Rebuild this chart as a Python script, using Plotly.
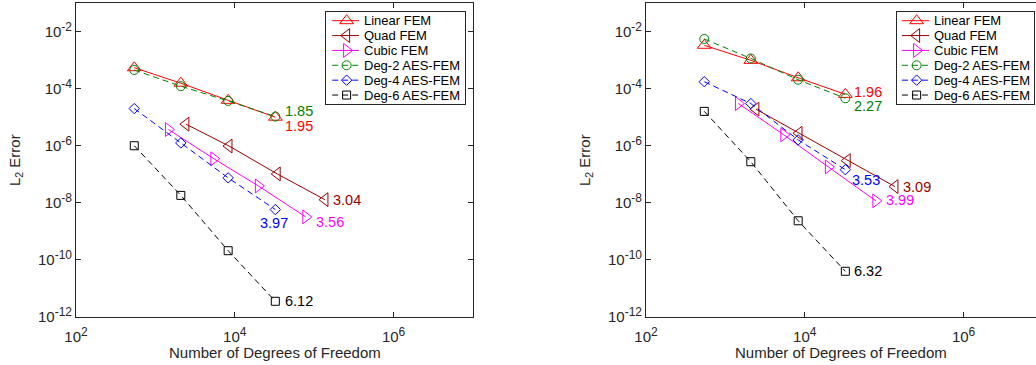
import numpy as np
import plotly.graph_objects as go

# ---------------- data ----------------
series_names = ["Linear FEM", "Quad FEM", "Cubic FEM", "Deg-2 AES-FEM", "Deg-4 AES-FEM", "Deg-6 AES-FEM"]

dof_p1 = [542, 2090, 8250, 32400]        # Linear FEM and AES-FEM
dof_p2 = [2420, 8450, 34200, 136500]     # Quad FEM
dof_p3 = [1460, 5450, 19800, 78500]      # Cubic FEM

# left panel errors
left_linear = [5.4e-4, 1.55e-4, 3.9e-5, 1.0e-5]
left_quad = [5.7e-6, 9.8e-7, 1.03e-7, 1.29e-8]
left_cubic = [3.7e-6, 3.5e-7, 3.9e-8, 3.2e-9]
left_deg2 = [4.5e-4, 1.22e-4, 3.7e-5, 1.05e-5]
left_deg4 = [2.0e-5, 1.25e-6, 7.5e-8, 5.8e-9]
left_deg6 = [1.0e-6, 1.82e-8, 2.1e-10, 3.55e-12]
left_rates = ["1.95", "3.04", "3.56", "1.85", "3.97", "6.12"]

# right panel errors
right_linear = [3.3e-3, 9.8e-4, 2.4e-4, 6.3e-5]
right_quad = [1.92e-5, 2.75e-6, 3.0e-7, 3.7e-8]
right_cubic = [3.0e-5, 2.4e-6, 1.8e-7, 1.17e-8]
right_deg2 = [5.5e-3, 1.14e-3, 2.05e-4, 4.6e-5]
right_deg4 = [1.75e-4, 3.0e-5, 1.6e-6, 1.45e-7]
right_deg6 = [1.6e-5, 2.75e-7, 2.35e-9, 4.0e-11]
right_rates = ["1.96", "3.09", "3.99", "2.27", "3.53", "6.32"]

x_tickvals = [1e2, 1e4, 1e6]
x_tickexp = ["2", "4", "6"]
y_tickvals = [1e-12, 1e-10, 1e-8, 1e-6, 1e-4, 1e-2]
y_tickexp = ["-12", "-10", "-8", "-6", "-4", "-2"]

# ---------------- style ----------------
FONT = "Liberation Sans, Arial, Helvetica, sans-serif"
AX = "#262626"
colors = ["#FF0000", "#990000", "#FF00FF", "#008000", "#0000FF", "#000000"]
symbols = ["triangle-up-open", "triangle-left-open", "triangle-right-open",
           "circle-open", "diamond-open", "square-open"]
msizes = [12, 12, 12, 9, 8, 8]
dashes = ["solid", "solid", "solid", "6px,4px", "6px,4px", "6px,4px"]
xs = [dof_p1, dof_p2, dof_p3, dof_p1, dof_p1, dof_p1]

left_data = [left_linear, left_quad, left_cubic, left_deg2, left_deg4, left_deg6]
right_data = [right_linear, right_quad, right_cubic, right_deg2, right_deg4, right_deg6]


def pow_label(e):
    return "10<sup><span style='font-size:12px'>" + e + "</span></sup>"


# label offsets (px) relative to last point: (xanchor, xshift, yshift)
left_off = [("left", 7.5, -8.5), ("left", 5.8, 0), ("left", 8, -5.5),
            ("left", 7.5, 6), ("center", -1, -13.5), ("left", 7.5, 0)]
right_off = [("left", 7, 2), ("left", 6, 0), ("left", 8.4, 1),
             ("left", 7, -7.6), ("left", 4.7, -10), ("left", 7, 0)]

fig = go.Figure()
annotations = []

for panel, (data, rates, offs, xa, ya) in enumerate([
        (left_data, left_rates, left_off, "x", "y"),
        (right_data, right_rates, right_off, "x2", "y2")]):
    for i in range(6):
        fig.add_trace(go.Scatter(
            x=xs[i], y=data[i], xaxis=xa, yaxis=ya, mode="lines+markers",
            line=dict(color=colors[i], width=1, dash=dashes[i]),
            marker=dict(symbol=symbols[i], size=msizes[i], color=colors[i],
                        line=dict(color=colors[i], width=1)),
            showlegend=False, hoverinfo="skip"))
    for i in range(6):
        anc, xsft, ysft = offs[i]
        annotations.append(dict(
            x=np.log10(xs[i][-1]), y=np.log10(data[i][-1]), xref=xa, yref=ya,
            text=rates[i], showarrow=False, xanchor=anc, yanchor="middle",
            xshift=xsft, yshift=ysft,
            font=dict(family=FONT, size=14.5, color=colors[i])))

# ---------------- legends (drawn on small overlay axes) ----------------
row_y = [1 - (0.0913 + k * 0.1616) for k in range(6)]
for lx, ly, samp, mk, tx in [("x3", "y3", (0.043, 0.236), 0.147, 0.258),
                              ("x4", "y4", (0.036, 0.235), 0.143, 0.255)]:
    for i in range(6):
        fig.add_trace(go.Scatter(
            x=list(samp), y=[row_y[i], row_y[i]], xaxis=lx, yaxis=ly, mode="lines",
            line=dict(color=colors[i], width=1, dash=dashes[i]),
            showlegend=False, hoverinfo="skip"))
        fig.add_trace(go.Scatter(
            x=[mk], y=[row_y[i]], xaxis=lx, yaxis=ly, mode="markers",
            marker=dict(symbol=symbols[i], size=msizes[i], color=colors[i],
                        line=dict(color=colors[i], width=1)),
            showlegend=False, hoverinfo="skip"))
        annotations.append(dict(
            x=tx, y=row_y[i], xref=lx, yref=ly, text=series_names[i],
            showarrow=False, xanchor="left", yanchor="middle",
            font=dict(family=FONT, size=13, color="#000000")))

# axis titles
for xa, ya in [("x", "y"), ("x2", "y2")]:
    annotations.append(dict(
        x=0.5, y=-0.1115, xref=xa + " domain", yref="paper",
        text="Number of Degrees of Freedom", showarrow=False,
        xanchor="center", yanchor="middle",
        font=dict(family=FONT, size=15, color=AX)))
    annotations.append(dict(
        x=0, y=0.5, xref=xa + " domain", yref=ya + " domain", xshift=-61,
        text="L<sub>2</sub> Error", showarrow=False, textangle=-90,
        xanchor="center", yanchor="middle",
        font=dict(family=FONT, size=15, color=AX)))

common_x = dict(type="log", tickvals=x_tickvals, ticktext=[pow_label(e) for e in x_tickexp],
                ticks="inside", ticklen=5, tickcolor=AX, tickwidth=1,
                showline=True, linecolor=AX, linewidth=1, showgrid=False,
                zeroline=False, tickfont=dict(family=FONT, size=15, color=AX),
                automargin=False, fixedrange=True, ticklabelstandoff=6)
common_y = dict(type="log", range=[-12, -1], tickvals=y_tickvals,
                ticktext=[pow_label(e) for e in y_tickexp],
                ticks="inside", ticklen=5, tickcolor=AX, tickwidth=1,
                showline=True, linecolor=AX, linewidth=1, showgrid=False,
                zeroline=False, tickfont=dict(family=FONT, size=15, color=AX),
                automargin=False, fixedrange=True, domain=[0, 1])
leg_ax = dict(range=[0, 1], showline=True, mirror=True, linecolor=AX, linewidth=1,
              showticklabels=False, ticks="", showgrid=False, zeroline=False,
              fixedrange=True, automargin=False)

fig.update_layout(
    width=1036, height=365,
    margin=dict(l=76, r=0, t=3, b=48),
    paper_bgcolor="white", plot_bgcolor="white",
    showlegend=False,
    font=dict(family=FONT, color=AX),
    xaxis=dict(common_x, domain=[0, 397 / 960], range=[2, 7], anchor="y", mirror="ticks"),
    yaxis=dict(common_y, anchor="x", mirror="ticks"),
    xaxis2=dict(common_x, domain=[570 / 960, 1], range=[2, 2 + 390 / 79.4], anchor="y2", mirror="ticks"),
    yaxis2=dict(common_y, anchor="x2", mirror=False),
    xaxis3=dict(leg_ax, domain=[0.2607, 0.4049], anchor="y3"),
    yaxis3=dict(leg_ax, domain=[0.6774, 0.9704], anchor="x3"),
    xaxis4=dict(leg_ax, domain=[0.8552, 0.9982], anchor="y4"),
    yaxis4=dict(leg_ax, domain=[0.6774, 0.9704], anchor="x4"),
    annotations=annotations,
)

fig.write_html("out.html", config={"displayModeBar": False},
               post_script="document.body.style.margin='0';document.body.style.overflow='hidden';")
